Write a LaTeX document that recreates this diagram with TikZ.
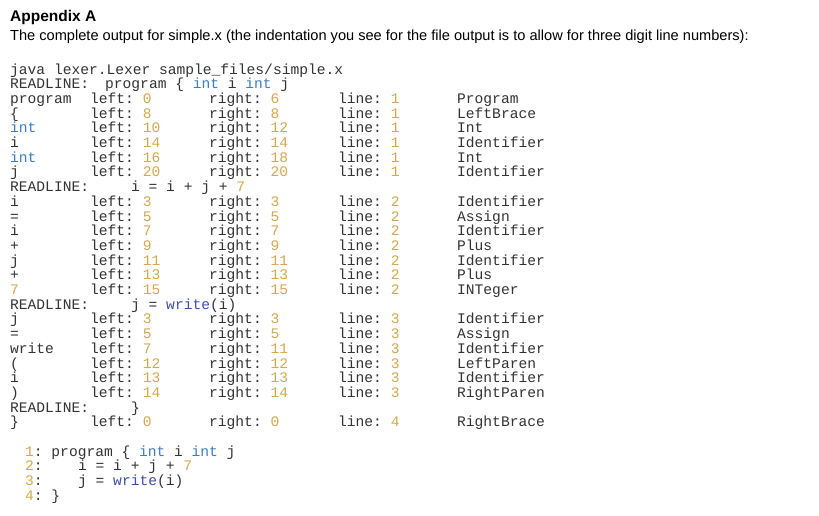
\documentclass[tikz,border=0pt]{standalone}
\usepackage{fontspec}
\setmainfont{Liberation Sans}
\setmonofont{Liberation Mono}
\definecolor{kw}{HTML}{3C7DC4}
\definecolor{num}{HTML}{D4A84E}
\definecolor{wr}{HTML}{3F4FA3}
\definecolor{ink}{HTML}{333333}
\tikzset{txt/.style={anchor=base west,inner sep=0pt,font=\fontsize{14.6}{15}\ttfamily,text=ink}}
\newcommand\ry[1]{-(74+14.7*#1)}
\newcommand\tokrow[6]{%
 \node[txt] (tok#1) at (10,{\ry{#1}}) {#2};
 \node[txt] (lf#1) at (90,{\ry{#1}}) {left: \textcolor{num}{#3}};
 \node[txt] (rt#1) at (209,{\ry{#1}}) {right: \textcolor{num}{#4}};
 \node[txt] (ln#1) at (338,{\ry{#1}}) {line: \textcolor{num}{#5}};
 \node[txt] (ty#1) at (457,{\ry{#1}}) {#6};}
\begin{document}
\begin{tikzpicture}[x=1pt,y=1pt]
\useasboundingbox[fill=white] (0,0) rectangle (819,-515);
\node[anchor=base west,inner sep=0pt,font=\fontsize{15.5}{16}\bfseries] (title) at (10,-21) {Appendix A};
\node[anchor=base west,inner sep=0pt,font=\fontsize{14.6}{15}\selectfont] (sub) at (10,-40) {The complete output for simple.x (the indentation you see for the file output is to allow for three digit line numbers):};
\node[txt] (cmd) at (10,{\ry{0}}) {java lexer.Lexer sample\_files/simple.x};
\node[txt] (rl1) at (10,{\ry{1}}) {READLINE:};
\node[txt] (rc1) at (105,{\ry{1}}) {program \{ \textcolor{kw}{int} i \textcolor{kw}{int} j};
\tokrow{2}{program}{0}{6}{1}{Program}
\tokrow{3}{\{}{8}{8}{1}{LeftBrace}
\tokrow{4}{\textcolor{kw}{int}}{10}{12}{1}{Int}
\tokrow{5}{i}{14}{14}{1}{Identifier}
\tokrow{6}{\textcolor{kw}{int}}{16}{18}{1}{Int}
\tokrow{7}{j}{20}{20}{1}{Identifier}
\node[txt] (rl8) at (10,{\ry{8}}) {READLINE:};
\node[txt] (rc8) at (131,{\ry{8}}) {i = i + j + \textcolor{num}{7}};
\tokrow{9}{i}{3}{3}{2}{Identifier}
\tokrow{10}{=}{5}{5}{2}{Assign}
\tokrow{11}{i}{7}{7}{2}{Identifier}
\tokrow{12}{+}{9}{9}{2}{Plus}
\tokrow{13}{j}{11}{11}{2}{Identifier}
\tokrow{14}{+}{13}{13}{2}{Plus}
\tokrow{15}{\textcolor{num}{7}}{15}{15}{2}{INTeger}
\node[txt] (rl16) at (10,{\ry{16}}) {READLINE:};
\node[txt] (rc16) at (131,{\ry{16}}) {j = \textcolor{wr}{write}(i)};
\tokrow{17}{j}{3}{3}{3}{Identifier}
\tokrow{18}{=}{5}{5}{3}{Assign}
\tokrow{19}{write}{7}{11}{3}{Identifier}
\tokrow{20}{(}{12}{12}{3}{LeftParen}
\tokrow{21}{i}{13}{13}{3}{Identifier}
\tokrow{22}{)}{14}{14}{3}{RightParen}
\node[txt] (rl23) at (10,{\ry{23}}) {READLINE:};
\node[txt] (rc23) at (131,{\ry{23}}) {\}};
\tokrow{24}{\}}{0}{0}{4}{RightBrace}
\node[txt] (n1) at (25,{\ry{26}}) {\textcolor{num}{1}: program \{ \textcolor{kw}{int} i \textcolor{kw}{int} j};
\node[txt] (n2) at (25,{\ry{27}}) {\textcolor{num}{2}:};
\node[txt] (c2) at (78,{\ry{27}}) {i = i + j + \textcolor{num}{7}};
\node[txt] (n3) at (25,{\ry{28}}) {\textcolor{num}{3}:};
\node[txt] (c3) at (78,{\ry{28}}) {j = \textcolor{wr}{write}(i)};
\node[txt] (n4) at (25,{\ry{29}}) {\textcolor{num}{4}: \}};
\end{tikzpicture}
\end{document}
